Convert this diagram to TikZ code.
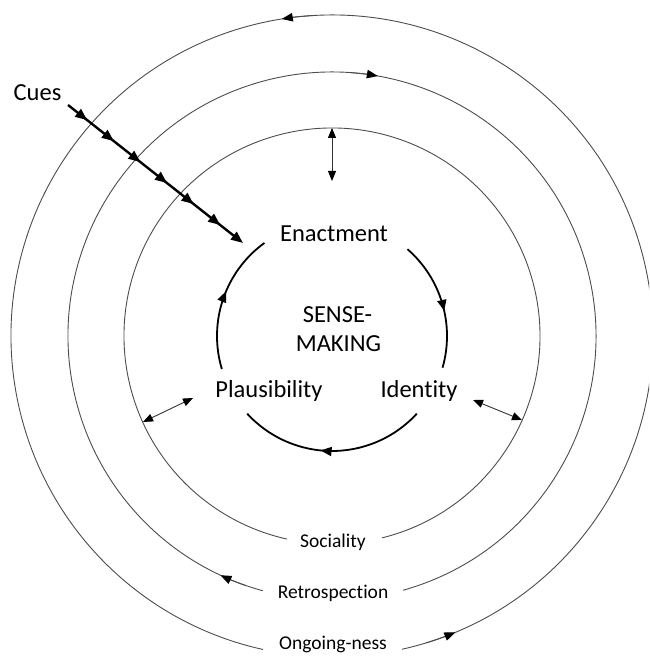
\documentclass[tikz,border=0pt]{standalone}
\usepackage{fontspec}
\setmainfont{Carlito}[Ligatures={NoCommon,NoContextual}]
\usetikzlibrary{arrows.meta,decorations.markings}
\begin{document}
\begin{tikzpicture}[x=1pt,y=1pt,
  ring/.style={draw=black!70, line width=0.9pt},
  tipa/.style={-{Triangle[length=11pt,width=8.5pt,color=black]}},
  cyc/.style={draw=black, line width=1.8pt, postaction={decorate},
    decoration={markings, mark=at position 0.56 with {\arrow{Triangle[length=11pt,width=9pt]}}}},
  cuesline/.style={draw=black, line width=2.4pt, -{Triangle[length=12pt,width=9.5pt]}, postaction={decorate},
    decoration={markings, mark=between positions 0.11 and 0.87 step 0.152 with {\arrow{Triangle[length=12pt,width=9.5pt]}}}},
  dbl/.style={draw=black!80, line width=0.9pt, {Triangle[length=10pt,width=8pt,color=black]}-{Triangle[length=10pt,width=8pt,color=black]}},
  lab/.style={font=\fontsize{24.5}{28}\selectfont, inner sep=0pt},
  rlab/.style={font=\fontsize{19.5}{23}\selectfont, inner sep=0pt}
]
\useasboundingbox (0,0) rectangle (649,661);
\clip (0,0) rectangle (649,661);
\coordinate (C) at (332,325);

% rings with label gaps
\draw[ring] ([shift={(-76.1:208)}]C) arc[start angle=-76.1, end angle=257.5, radius=208];
\draw[ring] ([shift={(-74.4:264)}]C) arc[start angle=-74.4, end angle=254.8, radius=264];
\draw[ring] ([shift={(-77.4:321)}]C) arc[start angle=-77.4, end angle=257.6, radius=321];

% ring arrowheads
\draw[ring, tipa] ([shift={(93:321)}]C) arc[start angle=93, end angle=99, radius=321];
\draw[ring, tipa] ([shift={(-73:321)}]C) arc[start angle=-73, end angle=-67.4, radius=321];
\draw[ring, tipa] ([shift={(86:264)}]C) arc[start angle=86, end angle=80, radius=264];
\draw[ring, tipa] ([shift={(251:264)}]C) arc[start angle=251, end angle=245, radius=264];

% ring labels
\node[rlab, anchor=base] (soc) at (333,113) {Sociality};
\node[rlab, anchor=base] (retro) at (333,62) {Retrospection};
\node[rlab, anchor=base] (ongo) at (333,11) {Ongoing-ness};

% central labels
\node[lab, anchor=base] (enact) at (334,419) {Enactment};
\node[lab, anchor=base] (plaus) at (269,263) {Plausibility};
\node[lab, anchor=base] (ident) at (419,263) {Identity};
\node[lab, anchor=base] (sense) at (337.5,338) {SENSE-};
\node[lab, anchor=base] (making) at (338.5,309) {MAKING};
\node[lab, anchor=base] (cues) at (37.5,560) {Cues};

% sensemaking cycle
\draw[cyc] ([shift={(49:115)}]C) arc[start angle=49, end angle=-16, radius=115];
\draw[cyc] ([shift={(-42.5:115)}]C) arc[start angle=-42.5, end angle=-137.5, radius=115];
\draw[cyc] ([shift={(196.7:115)}]C) arc[start angle=196.7, end angle=126, radius=115];

% cues arrow
\coordinate (cs) at (68,556);
\coordinate (ce) at (243,418);
\draw[cuesline] (cs) -- (ce);

% double arrows
\coordinate (t1) at (332,533); \coordinate (t2) at (332,480);
\coordinate (l1) at (143,239); \coordinate (l2) at (193,263);
\coordinate (r1) at (473,261); \coordinate (r2) at (522,241);
\draw[dbl] (t1) -- (t2);
\draw[dbl] (l1) -- (l2);
\draw[dbl] (r1) -- (r2);
\end{tikzpicture}
\end{document}
